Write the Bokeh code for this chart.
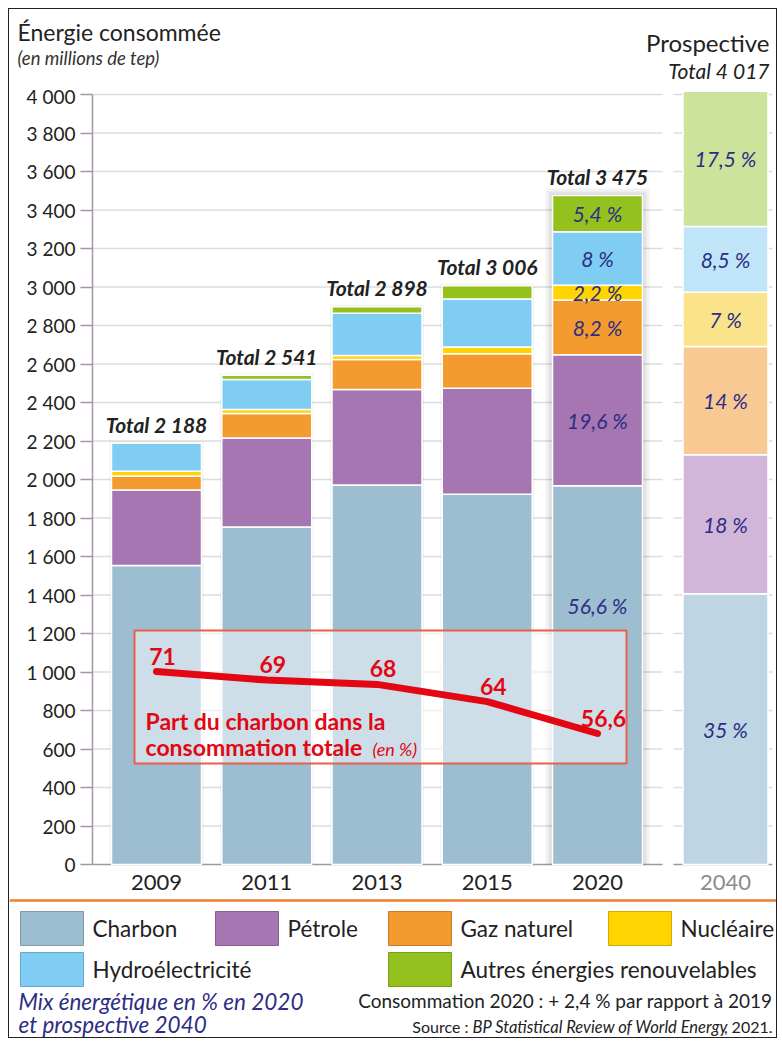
from bokeh.plotting import figure
from bokeh.models import Range1d, FixedTicker, ColumnDataSource
from bokeh.layouts import column
from bokeh.embed import file_html
from bokeh.resources import INLINE
from bokeh.core.properties import value

# ---------------- data ----------------
years = ["2009", "2011", "2013", "2015", "2020"]
charbon = [1553, 1753, 1971, 1924, 1967]
petrole = [392, 462, 497, 550, 681]
gaz = [73, 128, 155, 179, 285]
nucleaire = [25, 21, 21, 35, 76]
hydro = [145, 155, 220, 250, 278]
autres = [0, 22, 34, 68, 188]
totals = [2188, 2541, 2898, 3006, 3475]

year_2040 = "2040"
total_2040 = 4017
share_2040 = [35, 18, 14, 7, 8.5, 17.5]
share_2020 = [56.6, 19.6, 8.2, 2.2, 8, 5.4]
coal_share = [71, 69, 68, 64, 56.6]

series = ["Charbon", "Pétrole", "Gaz naturel", "Nucléaire",
          "Hydroélectricité", "Autres énergies renouvelables"]
keys = ["charbon", "petrole", "gaz", "nucleaire", "hydro", "autres"]
colors = ["#9dbdd1", "#a576b2", "#f39b2f", "#ffd400", "#7fcdf3", "#95c11f"]
pale = ["#bed5e3", "#d1b6da", "#f9c993", "#fbe38c", "#c0e4f8", "#cde39b"]
y_ticks = list(range(0, 4001, 200))

FONT = "Lato"
INK = "#222222"
NAVY = "#2d2e83"
RED = "#e30613"
AXIS = "#a394a6"

# ---------------- geometry (pixels on the page) ----------------
OX, OY = 9, 9                 # page position of the canvases' left / top
PX0, DX = 156.0, 110.25       # page x of first bar centre, px per slot
Y0, KY = 864.0, 0.1925        # page y of value 0, px per unit
def dx(px): return (px - PX0) / DX
def dy(py): return (Y0 - py) / KY

xs = list(range(len(years)))
x40 = dx(725)
BW = 90 / DX
BW40 = 85 / DX
W = 767
HEAD_END, MAIN_END, FOOT_END = 84, 898, 1037

def fmt(n):
    return f"{n:,}".replace(",", " ")

def txt(fig, x, y, text, size, style="normal", color=INK, align="left", baseline="middle", **kw):
    fig.text(x=x, y=y, text=text, text_font=value(FONT), text_font_size=size,
             text_font_style=style, text_color=color, text_align=align,
             text_baseline=baseline, **kw)

def blank(height, y0, y1):
    f = figure(width=W, height=height, x_range=Range1d(OX, OX + W), y_range=Range1d(y1, y0),
               output_backend="svg", toolbar_location=None, min_border=0,
               x_axis_location=None, y_axis_location=None, outline_line_color=None,
               background_fill_color="white", border_fill_color="white")
    f.frame_align = False
    f.xgrid.visible = False
    f.ygrid.visible = False
    return f

# ---------------- header ----------------
hd = blank(HEAD_END - OY, OY, HEAD_END)
txt(hd, [17], [31], ["Énergie consommée"], "23px")
txt(hd, [17], [57], ["(en millions de tep)"], "18.5px", "italic", "#333333")
txt(hd, [769], [42], ["Prospective"], "24px", align="right")
txt(hd, [769], [70], [f"Total {fmt(total_2040)}"], "21px", "italic", align="right")

# ---------------- main chart ----------------
p = figure(width=W, height=MAIN_END - HEAD_END,
           x_range=Range1d(dx(92), dx(772)), y_range=Range1d(dy(MAIN_END), dy(88)),
           output_backend="svg", toolbar_location=None, x_axis_location=None,
           min_border_left=92 - OX, min_border_right=OX + W - 772,
           min_border_top=88 - HEAD_END, min_border_bottom=0,
           outline_line_color=None, background_fill_color="white", border_fill_color="white")
p.frame_align = False
p.xgrid.visible = False
p.ygrid.visible = False

p.yaxis.ticker = FixedTicker(ticks=y_ticks)
p.yaxis.major_label_overrides = {t: fmt(t) for t in y_ticks}
p.yaxis.bounds = (0, 4000)
p.yaxis.axis_line_color = AXIS
p.yaxis.axis_line_width = 1.5
p.yaxis.major_tick_line_color = AXIS
p.yaxis.major_tick_line_width = 1.5
p.yaxis.major_tick_out = 12
p.yaxis.major_tick_in = 0
p.yaxis.minor_tick_line_color = None
p.yaxis.major_label_text_font = FONT
p.yaxis.major_label_text_font_size = "19px"
p.yaxis.major_label_text_color = INK
p.yaxis.major_label_standoff = 5

# grid lines (broken between 2020 and 2040) and baselines
gt = [t for t in y_ticks if t > 0]
p.segment(x0=[dx(92)] * len(gt), x1=[dx(662)] * len(gt), y0=gt, y1=gt,
          line_color="#dcdcdc", line_width=1.5)
p.segment(x0=[dx(673)] * len(gt), x1=[dx(790)] * len(gt), y0=gt, y1=gt,
          line_color="#dcdcdc", line_width=1.5)
p.segment(x0=[dx(92), dx(673)], x1=[dx(662), dx(772)], y0=[0, 0], y1=[0, 0],
          line_color=AXIS, line_width=1.5)

# shadows
for i, t in enumerate(totals):
    layers = [2] if i < len(totals) - 1 else [2, 4, 7]
    for g in layers:
        p.quad(left=[xs[i] - BW / 2 - g / DX], right=[xs[i] + BW / 2 + g / DX],
               bottom=[0], top=[t + g / KY], fill_color="black", fill_alpha=0.05,
               line_color=None)

# bars
src = ColumnDataSource(dict(x=xs, charbon=charbon, petrole=petrole, gaz=gaz,
                            nucleaire=nucleaire, hydro=hydro, autres=autres))
p.vbar_stack(keys, x="x", width=BW, color=colors, source=src,
             line_color="white", line_width=1.5)

vals40 = [total_2040 * s / 100 for s in share_2040]
src40 = ColumnDataSource(dict({"x": [x40]}, **{k: [v] for k, v in zip(keys, vals40)}))
p.vbar_stack(keys, x="x", width=BW40, color=pale, source=src40,
             line_color="white", line_width=1.5)

# year labels under the bars
txt(p, xs, [dy(882)] * len(xs), years, "22px", align="center")
txt(p, [x40], [dy(882)], [year_2040], "22px", color="#8c8c8c", align="center")

# totals
txt(p, xs, totals, [f"Total {fmt(t)}" for t in totals], "21px", "bold italic",
    align="center", baseline="alphabetic", y_offset=-19)

# percent labels
def centers(vals):
    out, c = [], 0
    for v in vals:
        out.append(c + v / 2)
        c += v
    return out

def pct(s):
    return f"{s:g}".replace(".", ",") + " %"

vals20 = [charbon[-1], petrole[-1], gaz[-1], nucleaire[-1], hydro[-1], autres[-1]]
c20 = centers(vals20)
c20[0] = dy(605)
txt(p, [xs[-1]] * 6, c20, [pct(s) for s in share_2020], "21px", "italic", NAVY, "center")
txt(p, [x40] * 6, centers(vals40), [pct(s) for s in share_2040], "21px", "italic", NAVY, "center")

# coal-share box
p.quad(left=[dx(134)], right=[dx(626)], top=[dy(630)], bottom=[dy(763)],
       fill_color="white", fill_alpha=0.5, line_color="#e8604c", line_width=2)

per = (733 - 671) / (71 - 56.6)
p.extra_y_ranges = {"share": Range1d(71 - (MAIN_END - 671) / per, 71 + (671 - 88) / per)}
p.line(xs, coal_share, y_range_name="share", line_color=RED, line_width=7,
       line_cap="round", line_join="round")
txt(p, xs, coal_share, [f"{s:g}".replace(".", ",") for s in coal_share], "23px", "bold",
    RED, "center", "bottom", y_range_name="share", x_offset=6, y_offset=-7)
txt(p, [dx(145), dx(145)], [dy(720), dy(746)],
    ["Part du charbon dans la", "consommation totale"], "23px", "bold", RED)
txt(p, [dx(372)], [dy(748)], ["(en %)"], "18px", "italic", RED)

# ---------------- legend / footer ----------------
lf = blank(FOOT_END - MAIN_END, MAIN_END, FOOT_END)
lf.segment(x0=[OX], x1=[OX + W], y0=[900], y1=[900], line_color="#ef7d2d", line_width=2.5)

def darker(h, f=0.82):
    r, g, b = (int(h[i:i + 2], 16) for i in (1, 3, 5))
    return "#%02x%02x%02x" % (int(r * f), int(g * f), int(b * f))

sw_left = [20, 215, 388, 608, 20, 388]
sw_top = [911, 911, 911, 911, 952, 952]
lf.quad(left=sw_left, right=[l + 63 for l in sw_left], top=sw_top,
        bottom=[t + 34 for t in sw_top], fill_color=colors,
        line_color=[darker(c) for c in colors], line_width=1)
txt(lf, [l + 72 for l in sw_left], [t + 17 for t in sw_top], series, "22.5px")

txt(lf, [18, 18], [1001, 1024], ["Mix énergétique en % en 2020", "et prospective 2040"],
    "22.5px", "italic", NAVY)
txt(lf, [772], [1000], ["Consommation 2020 : + 2,4 % par rapport à 2019"], "19px",
    align="right")
txt(lf, [772], [1026], [", 2021."], "16px", align="right")
txt(lf, [728], [1026], ["BP Statistical Review of World Energy"], "16.5px", "italic",
    align="right")
txt(lf, [468], [1026], ["Source :"], "16px", align="right")

page = column(hd, p, lf, styles={"border": "1px solid #222222", "margin": "8px"})
open("out.html", "w").write(file_html(page, INLINE))
